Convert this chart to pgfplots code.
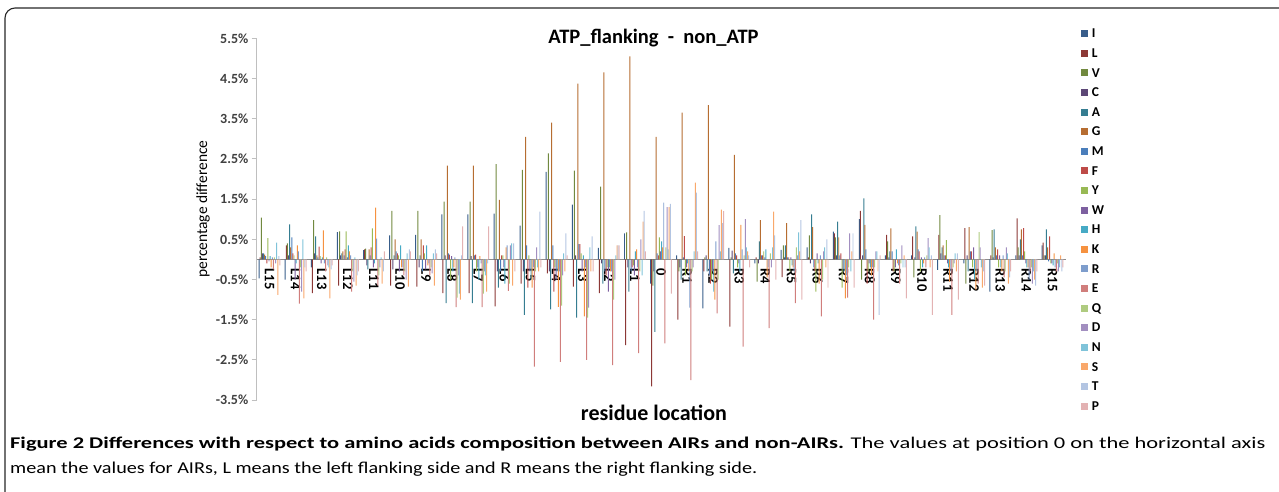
\documentclass[border=0pt]{standalone}
\usepackage{fontspec}
\setmainfont{Carlito}
\usepackage{graphicx}
\usepackage{pgfplots}
\usepackage{pgfplotstable}
\pgfplotsset{compat=1.18}

\definecolor{cI}{HTML}{385D8A}
\definecolor{cL}{HTML}{8C3836}
\definecolor{cV}{HTML}{71893F}
\definecolor{cC}{HTML}{5C4776}
\definecolor{cA}{HTML}{357D91}
\definecolor{cG}{HTML}{B66D31}
\definecolor{cM}{HTML}{4A7EBB}
\definecolor{cF}{HTML}{BE4B48}
\definecolor{cY}{HTML}{98B954}
\definecolor{cW}{HTML}{7D60A0}
\definecolor{cH}{HTML}{46AAC5}
\definecolor{cK}{HTML}{F69240}
\definecolor{cR}{HTML}{7E9DCC}
\definecolor{cE}{HTML}{D07E7C}
\definecolor{cQ}{HTML}{AFCB80}
\definecolor{cD}{HTML}{A28FC0}
\definecolor{cN}{HTML}{7FC3D9}
\definecolor{cS}{HTML}{F9A86B}
\definecolor{cT}{HTML}{B3C5E2}
\definecolor{cP}{HTML}{E3B2B3}

% differences in percent; columns in legend order
\pgfplotstableread{
pos I L V C A G M F Y W H K R E Q D N S T P
0 -0.47 0.05 1.04 0.15 0.15 0.12 0.08 -0.10 0.53 -0.05 0.08 -0.20 0.05 -0.25 0.05 -0.10 0.42 -0.88 0.08 -0.15
1 -0.50 0.35 0.40 0.10 0.87 0.30 0.55 0.15 0.10 -0.50 -0.10 0.35 0.20 -1.10 -0.20 -0.80 0.50 -0.97 -0.20 -0.30
2 -0.20 -0.84 0.98 0.15 0.57 0.10 0.05 0.32 0.08 -0.10 0.05 0.72 -0.10 -0.30 0.05 -0.15 -0.20 -0.97 -0.25 -0.15
3 0.68 -0.65 0.70 0.10 0.15 0.20 0.10 0.25 0.70 0.05 0.35 0.20 0.10 -0.80 -0.30 -0.55 0.05 -0.65 -0.40 -0.30
4 0.23 0.25 0.27 -0.15 -0.25 0.25 0.10 0.30 0.77 -0.20 -0.10 1.29 0.52 -0.65 -0.40 -0.20 0.05 -0.60 -0.30 0.20
5 0.60 -0.65 1.21 -0.25 0.10 0.50 0.20 0.15 0.10 -0.30 0.35 -0.20 -0.20 -0.40 -0.30 -0.50 0.15 -0.68 0.25 0.20
6 0.61 -0.68 1.21 -0.20 0.10 0.50 -0.30 0.35 0.15 -0.25 0.35 -0.15 -0.10 -0.40 -0.20 -0.35 0.15 -0.65 0.25 0.15
7 1.12 -0.84 1.44 0.10 -1.09 2.33 0.15 0.12 -0.50 0.08 -0.30 -0.20 0.05 -1.19 -0.95 -0.40 -0.85 -1.00 0.10 0.82
8 1.12 -0.84 1.44 0.08 -1.09 2.33 0.10 0.12 -0.30 -0.20 -0.50 0.08 -0.10 -1.19 -0.85 -0.30 -0.40 -0.80 -0.10 0.82
9 1.14 -1.17 2.37 -0.30 -0.70 1.48 -0.30 0.10 0.10 -0.20 -0.60 0.30 0.35 -0.78 -0.60 0.35 0.40 -0.65 0.40 -0.30
10 0.84 -0.60 2.23 -0.30 -1.38 3.05 0.35 -0.70 0.10 -0.30 -0.50 -0.70 -0.20 -2.67 -0.30 0.30 -0.20 -0.30 1.19 -0.20
11 2.18 -0.35 2.64 -0.30 -1.24 3.40 0.35 -0.80 -0.20 -0.50 -0.30 -1.18 -0.30 -2.55 -1.15 -0.40 0.15 -0.30 0.65 0.10
12 1.36 -0.68 2.21 0.10 -1.45 4.37 0.38 0.38 0.15 -0.30 0.10 -1.42 -0.20 -2.50 -1.45 -1.20 0.30 -0.30 0.57 -0.30
13 0.29 -0.84 1.81 -0.10 -0.60 4.65 -0.30 -0.40 -0.20 -0.80 -0.20 -0.30 -0.30 -2.63 -1.00 -0.50 0.10 0.35 0.35 0.35
14 0.65 -2.13 0.67 -0.20 -0.80 5.05 -0.30 -0.20 -0.15 -0.40 0.20 0.25 -0.20 -2.33 -0.30 0.50 -0.40 0.94 1.21 0.20
15 -0.60 -3.16 -0.65 -0.30 -1.80 3.05 0.15 0.10 0.55 0.20 0.45 0.30 1.41 -2.09 0.30 1.30 0.25 1.30 1.38 -0.85
16 0.10 -1.50 -0.30 -0.20 -0.50 3.65 0.05 0.58 -0.40 -0.20 -0.10 -0.30 -1.20 -3.00 -0.30 -0.20 0.20 1.91 1.66 0.20
17 -1.22 -0.30 0.05 0.10 -0.30 3.84 -0.40 -0.60 -0.50 -0.30 -0.80 -1.00 0.45 -1.34 -0.50 0.85 0.20 1.24 0.90 1.20
18 0.29 -1.67 0.05 0.22 -0.35 2.60 0.15 0.10 -0.20 -0.10 -0.30 0.86 0.25 -2.17 0.10 1.00 0.30 0.20 0.10 -0.20
19 -0.10 0.05 -0.55 -0.10 0.45 0.98 0.10 0.10 0.20 0.05 0.25 -0.45 -0.20 -1.71 0.15 -0.20 0.30 1.19 0.60 -0.50
20 0.24 -0.44 0.35 0.05 0.35 0.90 0.05 0.05 -0.30 0.05 -0.15 -0.20 -0.30 -1.09 0.30 0.10 0.67 0.20 0.98 -1.00
21 0.30 0.05 0.60 -0.10 1.12 0.80 -0.20 -0.30 -0.80 0.15 -0.10 -0.60 0.10 -1.42 -0.50 0.20 0.30 -0.20 0.50 -0.70
22 0.69 0.65 0.55 0.10 0.94 0.55 0.10 0.15 -0.70 -0.25 -0.30 -0.97 -0.40 -0.95 -0.20 0.65 -0.30 0.20 0.65 -0.70
23 1.00 1.21 -0.50 0.10 1.52 0.86 0.25 -0.60 -0.30 -0.10 -0.20 -0.40 -0.20 -1.50 -0.20 0.20 0.20 -0.30 -1.38 0.10
24 0.10 0.61 0.45 0.05 0.20 0.77 0.20 -0.30 -0.30 -0.20 0.25 -0.10 -0.15 -0.60 -0.10 0.35 -0.20 0.10 -0.20 -0.97
25 0.10 0.57 -0.45 0.05 0.82 0.69 0.25 0.20 -0.30 0.05 -0.20 -0.10 0.05 -0.20 0.10 0.53 0.30 -0.20 0.10 -1.38
26 -0.26 0.61 1.10 0.15 0.30 0.35 0.10 0.10 0.48 -0.10 -0.20 -0.55 -0.30 -1.38 -0.20 -0.10 0.15 -0.30 0.15 -1.00
27 -0.10 0.78 -0.60 0.10 -0.30 0.80 0.20 0.20 -0.20 0.30 -0.50 -0.75 -0.30 -0.60 0.68 0.30 -0.20 -0.70 -0.30 -0.65
28 -0.80 0.10 0.73 0.05 0.75 0.30 0.10 0.25 -0.20 0.10 -0.20 -0.30 0.10 -0.45 -0.30 0.30 0.15 -0.60 -0.45 -0.30
29 0.10 1.02 0.30 0.10 0.50 0.75 0.10 0.78 0.20 -0.10 -0.20 -0.20 -0.50 -0.30 -0.20 -0.60 -0.30 -0.50 -0.65 -0.30
30 0.35 0.42 0.10 0.10 0.75 0.30 -0.05 0.57 -0.10 -0.10 -0.15 0.15 -0.20 -0.30 -0.10 -0.30 -0.20 0.10 -0.30 -0.20
}\datatable

\newcommand{\aaplot}[3]{%
  \addplot[fill=#2, draw=none, bar shift=#3,
    legend image code/.code={\fill[#2] (0pt,-3.4pt) rectangle (7pt,3.6pt);}]
    table[x=pos,y=#1]{\datatable};
  \addlegendentry{#1}%
}

\begin{document}
\begin{tikzpicture}
\useasboundingbox (0pt,0pt) rectangle (1279pt,-491pt);
\draw[black!85, line width=1.1pt, rounded corners=10pt] (5pt,-8pt) rectangle (1330pt,-560pt);
\begin{axis}[
  at={(256.5pt,-400.1pt)}, anchor=south west,
  scale only axis, width=809pt, height=361.8pt,
  xmin=-0.5, xmax=30.5, ymin=-3.5, ymax=5.5,
  ybar=0pt, bar width=0.038,
  axis x line*=middle, axis y line*=left,
  x axis line style={draw=black!45, line width=0.9pt, -},
  y axis line style={draw=black!25, line width=0.9pt, -},
  xtick={0,1,2,3,4,5,6,7,8,9,10,11,12,13,14,15,16,17,18,19,20,21,22,23,24,25,26,27,28,29,30},
  xticklabels={L15,L14,L13,L12,L11,L10,L9,L8,L7,L6,L5,L4,L3,L2,L1,0,R1,R2,R3,R4,R5,R6,R7,R8,R9,R10,R11,R12,R13,R14,R15},
  x tick style={draw=none},
  xticklabel style={rotate=-90, anchor=west, font=\bfseries\fontsize{14.5}{14.5}\selectfont, inner sep=4pt},
  ytick={-3.5,-2.5,-1.5,-0.5,0.5,1.5,2.5,3.5,4.5,5.5},
  yticklabels={-3.5\%,-2.5\%,-1.5\%,-0.5\%,0.5\%,1.5\%,2.5\%,3.5\%,4.5\%,5.5\%},
  y tick style={draw=black!25, line width=0.9pt},
  tick align=outside, major tick length=5pt,
  yticklabel style={font=\bfseries\fontsize{14}{14}\selectfont, text=black!75, inner sep=3pt},
  /pgf/number format/assume math mode=true,
  title={ATP\_flanking\ \ -\ \ non\_ATP},
  title style={at={(axis description cs:0.4907,0.9843)}, anchor=center, font=\bfseries\fontsize{20.5}{20.5}\selectfont, inner sep=0pt},
  xlabel={residue location},
  xlabel style={at={(axis description cs:0.4913,-0.0357)}, anchor=center, font=\bfseries\fontsize{22}{22}\selectfont, inner sep=0pt},
  ylabel={percentage difference},
  ylabel style={at={(axis description cs:-0.0661,0.528)}, anchor=center, font=\fontsize{15.5}{15.5}\selectfont, inner sep=0pt},
  legend cell align=left,
  legend style={at={(axis description cs:1.0191,1.0243)}, anchor=north west, draw=none, fill=none,
    font=\bfseries\fontsize{13.5}{13.5}\selectfont, inner sep=0pt, outer sep=0pt, row sep=11.2pt,
    nodes={inner sep=0pt, text height=8.4pt, text depth=0pt},
    /tikz/every odd column/.append style={column sep=4pt}},
]
\aaplot{I}{cI}{-0.399}
\aaplot{L}{cL}{-0.357}
\aaplot{V}{cV}{-0.315}
\aaplot{C}{cC}{-0.273}
\aaplot{A}{cA}{-0.231}
\aaplot{G}{cG}{-0.189}
\aaplot{M}{cM}{-0.147}
\aaplot{F}{cF}{-0.105}
\aaplot{Y}{cY}{-0.063}
\aaplot{W}{cW}{-0.021}
\aaplot{H}{cH}{0.021}
\aaplot{K}{cK}{0.063}
\aaplot{R}{cR}{0.105}
\aaplot{E}{cE}{0.147}
\aaplot{Q}{cQ}{0.189}
\aaplot{D}{cD}{0.231}
\aaplot{N}{cN}{0.273}
\aaplot{S}{cS}{0.315}
\aaplot{T}{cT}{0.357}
\aaplot{P}{cP}{0.399}
\end{axis}
\node[anchor=base west, inner sep=0pt] at (10pt,-448pt) {\resizebox{1255pt}{11.5pt}{\textbf{Figure 2 Differences with respect to amino acids composition between AIRs and non-AIRs.} The values at position 0 on the horizontal axis}};
\node[anchor=base west, inner sep=0pt] at (10pt,-473pt) {\resizebox{747pt}{11.5pt}{mean the values for AIRs, L means the left flanking side and R means the right flanking side.}};
\end{tikzpicture}
\end{document}
